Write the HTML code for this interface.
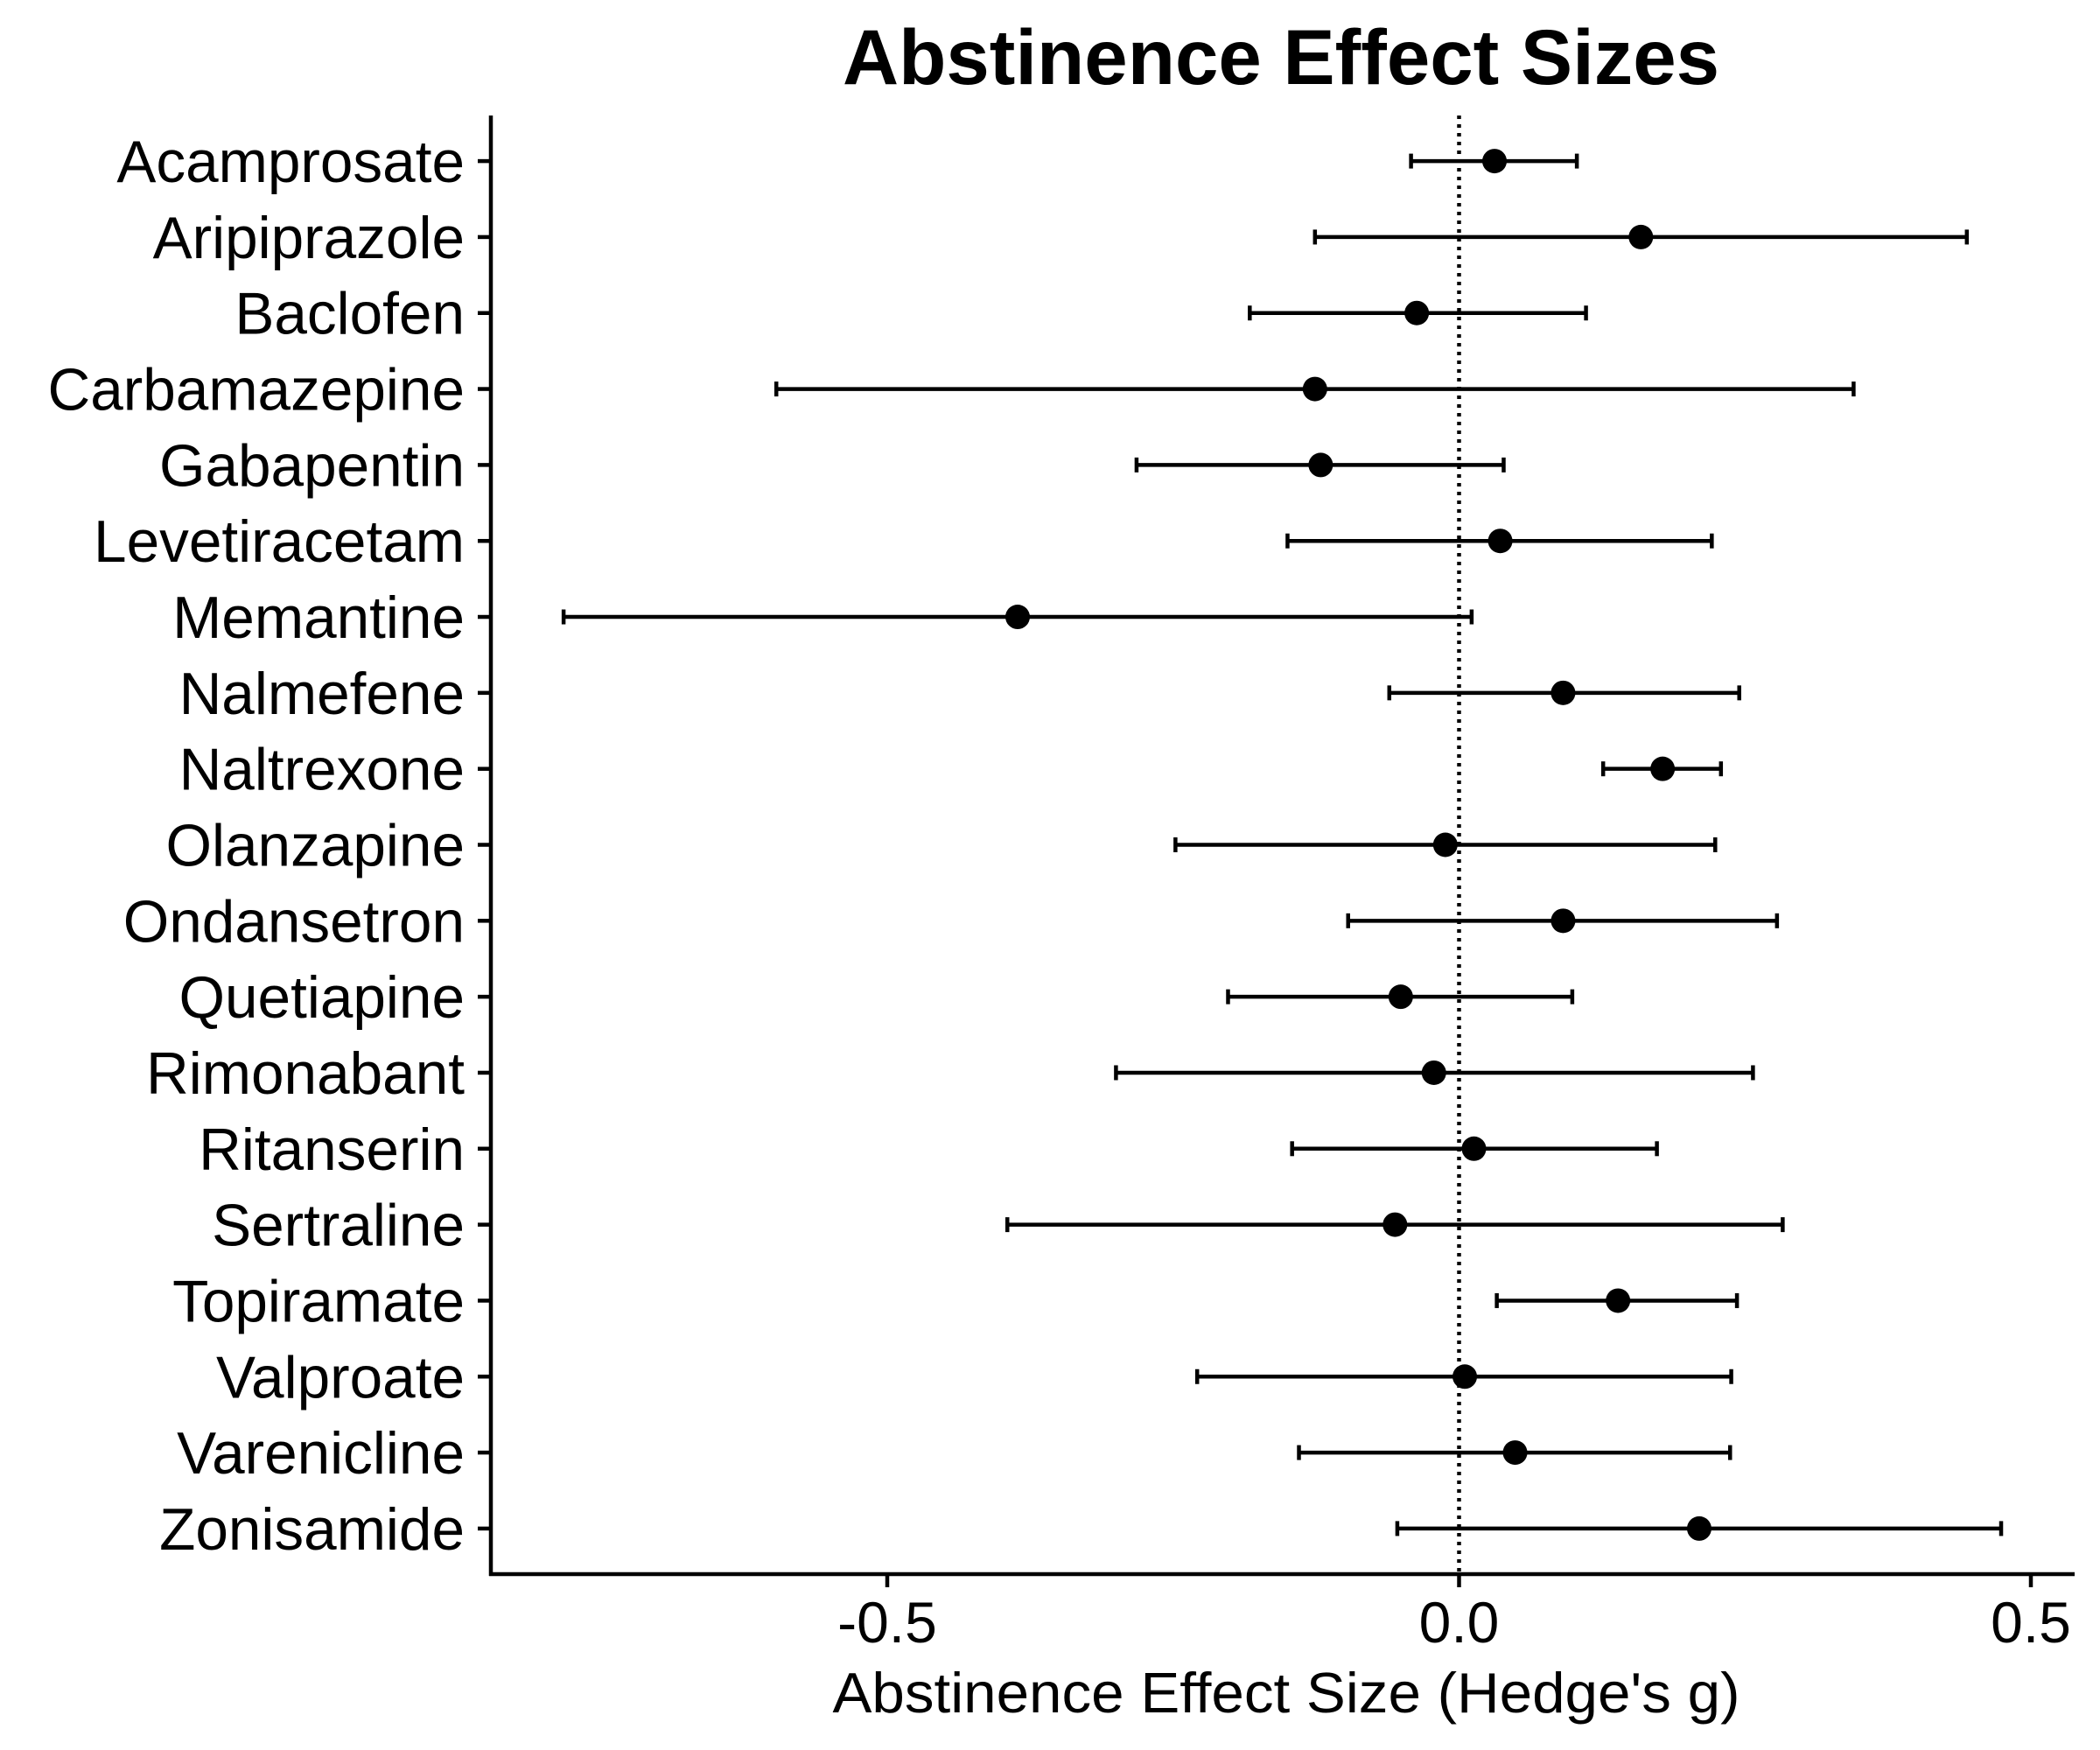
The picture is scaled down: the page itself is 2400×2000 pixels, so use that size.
<!DOCTYPE html>
<html><head><meta charset="utf-8"><style>
html,body{margin:0;padding:0;background:#fff;}
svg{display:block;}
text{font-family:"Liberation Sans",Arial,sans-serif;fill:#000;}
</style></head><body>
<svg id="chart" width="2400" height="2000" viewBox="0 0 2400 2000" xmlns="http://www.w3.org/2000/svg">
<rect width="2400" height="2000" fill="#fff"/>
<text x="1464" y="96" text-anchor="middle" font-size="89" font-weight="bold" textLength="1002" lengthAdjust="spacingAndGlyphs">Abstinence Effect Sizes</text>
<text x="1470" y="1957" text-anchor="middle" font-size="65" textLength="1037" lengthAdjust="spacingAndGlyphs">Abstinence Effect Size (Hedge's g)</text>
<g id="plot"></g>
</svg>
<script>
const categories = ["Acamprosate","Aripiprazole","Baclofen","Carbamazepine","Gabapentin","Levetiracetam","Memantine","Nalmefene","Naltrexone","Olanzapine","Ondansetron","Quetiapine","Rimonabant","Ritanserin","Sertraline","Topiramate","Valproate","Varenicline","Zonisamide"];
const estimates = [0.031,0.159,-0.037,-0.126,-0.121,0.036,-0.386,0.091,0.178,-0.012,0.091,-0.051,-0.022,0.013,-0.056,0.139,0.005,0.049,0.210];
const lower = [-0.042,-0.126,-0.183,-0.597,-0.282,-0.150,-0.783,-0.061,0.126,-0.248,-0.097,-0.202,-0.300,-0.146,-0.395,0.033,-0.229,-0.140,-0.054];
const upper = [0.103,0.444,0.111,0.345,0.039,0.221,0.011,0.245,0.229,0.224,0.278,0.099,0.257,0.173,0.283,0.243,0.238,0.237,0.474];
const xTicks = [-0.5,0.0,0.5];
const xTickLabels = ["-0.5","0.0","0.5"];

const NS="http://www.w3.org/2000/svg";
const g=document.getElementById('plot');
const X0=561, X1=2371, Y0=132, Y1=1799;
const SW=4.5;
function xs(v){return 1667.5+v*1307;}
const step=(Y1-Y0)/(categories.length-1+1.2);
function ys(i){return Y0+(0.6+i)*step;}
function mk(tag,attrs){const e=document.createElementNS(NS,tag);for(const k in attrs)e.setAttribute(k,attrs[k]);g.appendChild(e);return e;}

let zl=mk('line',{x1:xs(0),x2:xs(0),y1:Y0,y2:Y1,stroke:'#000','stroke-width':4.5,'stroke-dasharray':'4 6'});



let ya=mk('line',{x1:X0,x2:X0,y1:Y0,y2:Y1+2,stroke:'#000','stroke-width':SW});


let xa=mk('line',{x1:X0-2,x2:X1,y1:Y1,y2:Y1,stroke:'#000','stroke-width':SW});



xTicks.forEach((t,i)=>{
  let tk=mk('line',{x1:xs(t),x2:xs(t),y1:Y1,y2:Y1+15,stroke:'#000','stroke-width':SW});
  
  
  let tl=mk('text',{x:xs(t),y:1877,'text-anchor':'middle','font-size':66});
  tl.textContent=xTickLabels[i];
  
  
});

categories.forEach((c,i)=>{
  const y=ys(i);
  let tk=mk('line',{x1:X0-15,x2:X0,y1:y,y2:y,stroke:'#000','stroke-width':SW});
  
  
  let lb=mk('text',{x:531,y:y+24,'text-anchor':'end','font-size':67.5});
  lb.textContent=c;
  
  
  let eb=mk('line',{x1:xs(lower[i]),x2:xs(upper[i]),y1:y,y2:y,stroke:'#000','stroke-width':SW});
  
  
  let c1=mk('line',{x1:xs(lower[i]),x2:xs(lower[i]),y1:y-8.5,y2:y+8.5,stroke:'#000','stroke-width':SW});
  
  
  let c2=mk('line',{x1:xs(upper[i]),x2:xs(upper[i]),y1:y-8.5,y2:y+8.5,stroke:'#000','stroke-width':SW});
  
  
  let p=mk('circle',{cx:xs(estimates[i]),cy:y,r:14,fill:'#000'});
  
  
});
</script>
</body></html>
